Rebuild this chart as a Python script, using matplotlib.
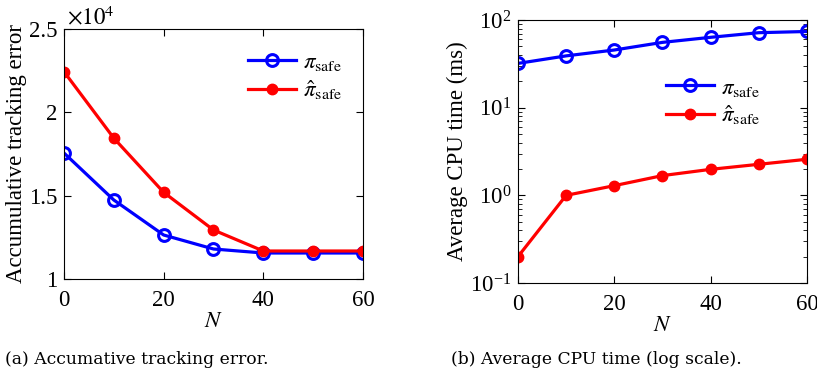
import numpy as np
import matplotlib.pyplot as plt
from matplotlib.ticker import LogLocator, NullFormatter

plt.rcParams['font.family'] = 'Liberation Serif'
plt.rcParams['mathtext.fontset'] = 'stix'

# data
N = [0, 10, 20, 30, 40, 50, 60]
err_pi = [1.756, 1.474, 1.264, 1.18, 1.156, 1.156, 1.156]
err_pihat = [2.244, 1.845, 1.52, 1.294, 1.168, 1.168, 1.168]
cpu_pi = [32, 39, 45.5, 55.6, 63.5, 71.7, 74]
cpu_pihat = [0.2, 1.0, 1.29, 1.68, 1.98, 2.26, 2.58]

lab_pi = r'$\pi_{\rm safe}$'
lab_pihat = r'$\hat{\pi}_{\rm safe}$'

fig = plt.figure(figsize=(8.17, 3.75), dpi=100)
ax1 = fig.add_axes([0.0783, 0.256, 0.366, 0.6667])
ax2 = fig.add_axes([0.634, 0.2453, 0.3537, 0.7013])

fs = 16.5

# (a) tracking error
ax1.plot(N, err_pi, '-o', color='b', lw=2.3, ms=8.5, mfc='none', mew=2.2, label=lab_pi)
ax1.plot(N, err_pihat, '-o', color='r', lw=2.3, ms=7.5, mfc='r', label=lab_pihat)
ax1.set_xlim(0, 60)
ax1.set_ylim(1, 2.5)
ax1.set_xticks([0, 20, 40, 60])
ax1.set_yticks([1, 1.5, 2, 2.5])
ax1.set_yticklabels(['1', '1.5', '2', '2.5'])
ax1.set_xlabel('$N$', fontsize=fs, labelpad=0)
ax1.set_ylabel('Accumulative tracking error', fontsize=fs, labelpad=1)
ax1.text(0.01, 1.0, r'$\times 10^4$', transform=ax1.transAxes, fontsize=fs, va='bottom')
ax1.legend(loc='upper right', frameon=False, fontsize=fs, handlelength=2.1,
           handletextpad=0.3, labelspacing=0.2, bbox_to_anchor=(1.0, 0.99))

# (b) CPU time
ax2.semilogy(N, cpu_pi, '-o', color='b', lw=2.3, ms=8.5, mfc='none', mew=2.2, label=lab_pi)
ax2.semilogy(N, cpu_pihat, '-o', color='r', lw=2.3, ms=7.5, mfc='r', label=lab_pihat)
ax2.set_xlim(0, 60)
ax2.set_ylim(0.1, 100)
ax2.set_xticks([0, 20, 40, 60])
ax2.yaxis.set_major_locator(LogLocator(base=10, numticks=10))
ax2.yaxis.set_minor_locator(LogLocator(base=10, subs=np.arange(2, 10), numticks=10))
ax2.yaxis.set_minor_formatter(NullFormatter())
ax2.set_xlabel('$N$', fontsize=fs, labelpad=0)
ax2.set_ylabel('Average CPU time (ms)', fontsize=fs, labelpad=1)
ax2.legend(loc='upper right', frameon=False, fontsize=fs, handlelength=2.1,
           handletextpad=0.3, labelspacing=0.2, bbox_to_anchor=(0.91, 0.86))

for ax in (ax1, ax2):
    ax.tick_params(direction='in', which='both', top=True, right=True, labelsize=fs)
    ax.tick_params(which='major', length=5)
    ax.tick_params(which='minor', length=3)
    ax.tick_params(axis='x', pad=8)
    ax.tick_params(axis='y', pad=5)
    for s in ax.spines.values():
        s.set_linewidth(0.8)

fig.text(0.006, 0.03, '(a) Accumative tracking error.', fontsize=12.3, family='DejaVu Serif')
fig.text(0.552, 0.03, '(b) Average CPU time (log scale).', fontsize=12.3, family='DejaVu Serif')

fig.savefig('out.png', dpi=100)
